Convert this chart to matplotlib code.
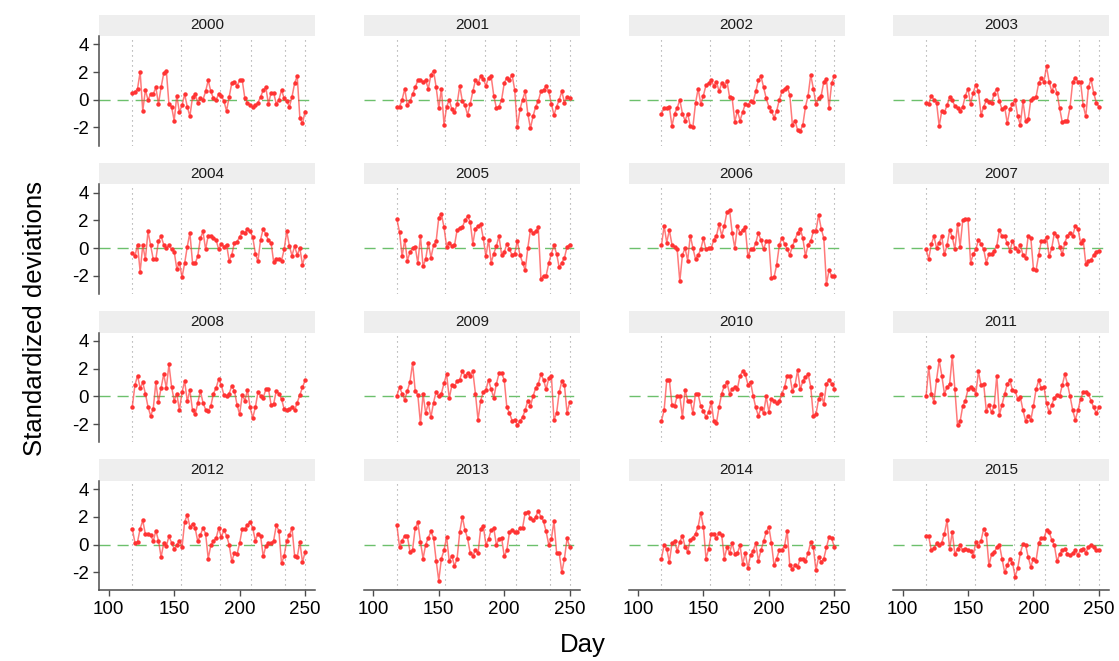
#!/usr/bin/env python3
"""
Standardized daily deviations by year, 16 small panels (2000-2015).
"""

import matplotlib
matplotlib.use("Agg")
import matplotlib.pyplot as plt
from matplotlib.patches import Rectangle

plt.rcParams["font.family"] = ["Liberation Sans", "DejaVu Sans"]
plt.rcParams["axes.unicode_minus"] = False

# ============================================================================
# DATA (every second day)
# ============================================================================
DAYS = list(range(118, 251, 2))
STAGE_DAYS = [118, 155, 185, 209, 235, 250]
YEARS = list(range(2000, 2016))
X_TICKS = [100, 150, 200, 250]
Y_TICKS = [-2, 0, 2, 4]

Y2000 = [0.5, 0.55, 0.8, 2.0, -0.8, 0.7, 0.0, 0.4, 0.4, 0.9, -0.3, 0.9, 1.9, 2.1,
         -0.3, -0.5, -1.5, 0.3, -0.9, -0.4, 0.4, -0.5, -1.2, 0.2, 0.4, -0.2, 0.1,
         0.0, 0.6, 1.4, 0.6, 0.1, 0.0, 0.4, 0.3, -0.1, -0.8, 0.2, 1.2, 1.3, 1.0,
         1.4, 1.4, 0.1, -0.2, -0.4, -0.55, -0.4, -0.2, 0.2, 0.7, 0.9, -0.3, 0.5,
         0.5, -0.3, 0.0, 0.7, 0.1, -0.1, -0.5, 0.2, 1.2, 1.7, -1.3, -1.7, -0.85]
Y2001 = [-0.55, -0.5, 0.0, 0.8, -0.4, -0.1, 0.4, 0.9, 1.4, 1.4, 1.3, 1.4, 0.8, 1.8,
         2.1, 0.9, -0.6, 0.8, -1.8, -0.5, 0.0, -0.7, -0.9, -0.3, 1.0, -0.1, -0.4,
         -1.1, -0.3, 0.6, 1.4, 1.2, 1.7, 1.5, 1.0, 1.6, 1.7, 0.3, -0.6, -0.5, 0.0,
         1.2, 1.6, 1.45, 1.8, 0.7, -2.0, -0.7, 0.0, 0.6, -1.0, -2.05, -1.2, -0.5,
         -0.1, 0.6, 0.7, 1.0, 0.6, -0.3, -1.1, -0.5, 0.0, 0.6, -0.2, 0.2, 0.1]
Y2002 = [-1.0, -0.6, -0.6, -0.5, -1.9, -1.0, -0.6, 0.0, -1.0, -1.5, -1.0, -1.9,
         -1.95, -0.25, 0.8, -0.3, 0.3, 1.05, 1.2, 1.4, 1.0, 1.3, 0.6, 1.2, 1.0,
         1.35, 0.2, 0.1, -1.6, -0.8, -1.5, -0.9, -0.3, -0.4, -0.1, -0.15, 0.6, 1.4,
         1.7, 0.9, 0.1, -0.5, -0.8, -1.3, -0.8, 0.0, 0.6, 0.8, 0.95, 0.35, -1.8,
         -1.5, -2.2, -2.25, -1.8, -0.5, 0.3, 1.8, 0.8, -0.3, 0.1, 0.3, 1.3, 1.5,
         -0.6, 1.2, 1.7]
Y2003 = [-0.25, -0.3, 0.3, 0.0, -0.2, -1.9, -0.8, -0.9, -0.4, 0.2, -0.05, -0.45,
         -0.6, -0.8, -0.5, 0.3, 0.8, -0.3, 0.5, 1.1, 0.6, -1.1, -0.5, -0.05, -0.15,
         -0.25, 0.45, 0.8, -0.1, -0.7, -0.5, -1.7, -0.7, -0.3, 0.0, -1.2, -1.8,
         -0.1, -1.5, -1.4, 0.0, 0.1, 0.2, 1.2, 1.55, 1.3, 2.4, 1.3, 0.6, 1.1, 0.5,
         -0.6, -1.6, -1.5, -1.5, -0.5, 1.3, 1.6, 1.3, 1.3, -0.4, -1.2, 0.9, 1.5,
         0.5, -0.2, -0.5]
Y2004 = [-0.35, -0.6, 0.25, -1.7, 0.2, -0.8, 1.2, 0.2, -0.8, -0.8, 0.5, 0.85, 0.25,
         0.0, 0.2, -0.1, -0.25, -1.5, -1.05, -2.1, -1.1, 0.1, 1.1, -1.05, -1.1,
         -0.6, 0.7, 1.2, -0.1, 0.9, 0.85, 0.75, 0.6, -0.1, 0.3, 0.1, 0.25, -0.9,
         -0.5, 0.4, 0.45, 0.8, 1.15, 1.1, 1.35, 1.2, 0.8, -0.4, -0.95, 0.6, 1.4,
         1.0, 0.55, 0.4, -1.0, -0.8, -0.8, -0.9, -0.1, 1.2, 0.15, -0.55, 0.15,
         -0.5, 0.0, -1.2, -0.55]
Y2005 = [2.1, 1.15, -0.6, 0.6, -0.9, -0.3, 0.0, 0.1, -1.1, 0.85, -1.3, -0.8, 0.4,
         -0.7, 0.2, 0.5, 2.2, 2.45, 1.5, 0.1, 0.4, 0.15, 0.2, 1.3, 1.45, 1.5, 2.0,
         2.3, 1.9, 0.3, 1.4, 1.6, 1.7, 0.7, -0.6, 0.6, -1.05, -0.4, 0.15, 0.85,
         -0.5, -0.3, 0.3, -0.1, -0.5, -0.4, 0.5, -0.5, -1.05, -1.6, 0.0, 1.3, 1.1,
         1.2, 1.5, -2.2, -2.0, -2.0, -1.1, -0.4, 0.2, -0.4, -1.4, -1.05, -0.7, 0.1,
         0.25]
Y2006 = [0.2, 1.6, 0.4, 1.3, 0.25, 0.1, -0.1, -2.4, -0.5, 0.0, -0.9, 0.9, 0.0,
         -0.8, -0.5, -0.1, 0.7, -0.1, 0.0, 0.0, 0.6, 0.9, 1.7, 0.9, 1.6, 2.6, 2.75,
         1.1, 0.0, 1.6, 1.1, 1.3, 1.5, -0.6, -0.1, -0.1, 0.35, 1.1, 0.55, -0.1,
         0.5, 0.5, -2.15, -2.1, -1.2, 0.2, 0.75, 0.3, -0.1, -0.5, 0.15, 0.6, 1.1,
         1.4, 0.7, -0.6, 0.25, 0.5, 1.2, 1.2, 2.4, 1.4, 0.7, -2.6, -1.6, -2.0,
         -2.0]
Y2007 = [-0.1, -0.8, 0.3, 0.85, 0.0, 0.4, 0.85, -0.45, 0.2, 1.3, 0.8, -0.1, 1.7,
         0.1, 2.0, 2.1, 2.1, -1.05, -0.45, -0.1, 0.6, 0.3, -0.1, -1.05, -0.45,
         -0.4, -0.2, 0.15, 1.3, 0.85, 0.85, 0.35, -0.2, 0.5, 0.0, -0.2, 0.25,
         -0.5, -0.7, 0.9, 0.75, -1.5, -1.6, -0.5, 0.5, 0.5, 0.8, -0.6, 0.0, 1.1,
         0.9, 0.1, -0.45, 0.4, 0.9, 1.1, 0.9, 1.6, 1.4, 0.4, 0.6, -1.15, -0.95,
         -0.85, -0.5, -0.25, -0.2]
Y2008 = [-0.75, 0.8, 1.5, 0.6, 1.0, 0.2, -0.75, -1.4, -0.9, 1.0, -0.4, 0.6, 1.6,
         0.6, 2.3, 0.7, -0.3, 0.2, -1.0, 0.3, 1.1, -0.35, 0.45, -1.0, -1.3, -0.5,
         0.4, -0.45, -0.95, -1.05, -0.7, 0.2, 0.6, 1.25, 0.8, 0.1, 0.0, 0.2, 0.75,
         0.4, -0.6, -1.3, 0.1, -0.3, 0.45, -0.8, -1.55, -0.8, 0.3, 0.05, -0.1, 0.5,
         0.55, -0.6, -0.55, 0.4, 0.2, -0.2, -0.9, -1.0, -0.9, -0.8, -1.0, -0.45,
         0.1, 0.65, 1.15]
Y2009 = [0.05, 0.65, 0.2, -0.25, 0.4, 1.05, 2.4, 0.4, 0.1, -1.95, 0.15, -1.2, -0.5,
         -1.5, -0.45, 0.35, 0.0, 0.2, 0.95, 1.6, -0.15, 0.8, 0.75, 1.1, 1.2, 1.8,
         1.5, 1.7, 1.5, 1.8, 0.2, -1.7, -0.3, 0.3, 0.45, 1.2, 0.5, -0.1, 0.9, 1.65,
         1.65, 1.2, -0.8, -1.2, -1.75, -1.7, -2.05, -1.8, -1.5, -1.0, -0.3, -0.7,
         0.0, 0.6, 0.9, 1.6, 1.2, 0.5, 1.3, 1.5, -1.7, -1.2, 0.3, 1.1, 0.8, -1.2,
         -0.4]
Y2010 = [-1.75, -1.0, 1.15, 1.2, -0.6, -0.7, 0.05, 0.0, -1.5, 0.45, -0.3, -0.3,
         -1.2, 0.2, 0.15, -0.7, -1.05, -1.5, -1.15, -0.4, -1.8, -1.9, -0.75, 0.2,
         0.75, 1.0, 0.2, 0.5, 0.65, 0.55, 1.5, 1.8, 1.6, 0.85, 1.05, 0.05, -0.8,
         -1.4, -0.85, -1.2, 0.0, -1.1, -0.2, -0.3, -0.5, -0.35, 0.2, 0.65, 1.5,
         1.5, 0.4, 0.8, 1.9, 0.5, 1.1, 1.4, 1.6, 0.7, -1.4, -1.3, -0.2, 0.2, -0.55,
         0.9, 1.2, 0.9, 0.55]
Y2011 = [0.0, 2.15, 0.2, -0.4, 1.2, 2.6, 1.5, 0.2, 0.65, 0.9, 2.9, 0.5, -2.1,
         -1.8, -0.7, -0.3, 0.5, 0.7, 0.55, 0.2, 1.8, 0.8, 0.9, -1.05, -0.6, -1.15,
         -0.7, 1.5, -1.35, -0.6, 0.15, 0.9, 1.15, 0.45, 0.4, -0.2, -0.05, -1.0,
         -1.75, -1.4, -1.7, -0.7, 0.5, 1.15, 0.6, 0.7, -0.5, -1.15, -0.6, -0.1,
         0.1, 0.0, 0.8, 1.6, 0.9, 0.0, -1.0, -1.7, -1.0, -0.2, 0.3, 0.3, 0.15,
         -0.3, -0.8, -1.2, -0.8]
Y2012 = [1.15, 0.15, 0.2, 1.15, 1.75, 0.75, 0.8, 0.7, 0.25, 1.0, 0.3, -0.9, 0.1,
         -0.1, 0.6, 0.15, -0.3, -0.05, 0.3, -0.2, 1.65, 2.15, 1.3, 1.5, 1.2, 0.25,
         0.7, 1.2, 0.8, -1.0, -0.05, 0.25, 0.45, 1.2, 0.55, 1.05, 0.65, 0.0, -1.2,
         -0.6, -0.7, 0.1, 1.15, 1.15, 1.4, 1.65, 1.2, 0.3, 0.8, 0.65, -0.85, -0.1,
         0.1, 0.1, 0.3, 1.4, 1.0, -1.35, -0.8, 0.3, 0.7, 1.2, -0.8, -0.9, 0.2,
         -1.25, -0.55]
Y2013 = [1.4, -0.15, 0.3, 0.65, 0.6, -0.5, -0.35, 1.2, 1.6, 0.2, -1.0, 0.0, 0.5,
         0.95, 0.5, -1.15, -2.6, -1.0, -0.4, 0.55, -1.2, -0.8, -1.55, -1.0, 0.9,
         2.0, 1.05, 0.45, -0.6, -0.8, -0.4, -0.6, 1.15, 1.35, 0.0, 0.4, 1.05, 1.2,
         0.0, 0.4, 0.5, -0.85, -0.4, 0.9, 1.05, 0.9, 0.9, 1.2, 1.2, 2.3, 2.35, 1.9,
         1.75, 2.0, 2.45, 2.0, 1.7, 0.95, 0.0, 0.4, 1.7, -0.6, -0.6, -2.0, -1.0,
         0.45, -0.15]
Y2014 = [-1.0, 0.0, -0.3, -1.25, 0.1, 0.25, -0.45, 0.2, 0.65, -0.15, -0.5, 0.35,
         0.5, 0.8, 1.3, 2.3, 1.3, -1.0, -0.3, 0.8, 0.8, 0.45, 0.85, 0.7, -1.0,
         -0.2, -0.6, 0.1, -0.65, -0.6, -0.05, -1.4, -0.6, -1.7, -0.75, -0.45, 0.1,
         -1.15, -0.4, 0.25, 0.9, 1.3, 0.1, -1.5, -1.0, -0.4, -0.35, -0.1, 1.0,
         -1.5, -1.75, -1.5, -1.6, -1.0, -1.0, -1.15, -0.6, 0.2, -0.2, -1.85, -0.9,
         -1.25, -1.0, -0.2, 0.55, 0.45, -0.15]
Y2015 = [0.65, 0.6, -0.4, -0.25, 0.1, 0.0, 0.15, 0.8, 1.75, -0.3, 0.9, -0.7, -0.3,
         -0.05, -0.4, -0.3, -0.4, -0.45, -0.8, 0.2, -0.1, 0.3, 1.15, 0.75, -1.5,
         -0.7, -0.55, -0.2, 0.0, -1.0, -2.0, -1.5, -1.0, -1.3, -2.3, -1.7, -0.6,
         0.05, 0.0, -0.9, -1.6, -1.0, -1.15, 0.1, 0.5, 0.45, 1.05, 0.9, 0.35,
         -0.05, -1.2, -0.7, -0.4, -0.3, -0.65, -0.75, -0.6, -0.4, -0.75, -0.35,
         -0.3, -0.6, -0.15, 0.0, -0.2, -0.4, -0.35]

SERIES = [Y2000, Y2001, Y2002, Y2003, Y2004, Y2005, Y2006, Y2007,
          Y2008, Y2009, Y2010, Y2011, Y2012, Y2013, Y2014, Y2015]

# ============================================================================
# LAYOUT (pixel geometry of the reference)
# ============================================================================
W, H = 1119, 661
COL_X = [99.3, 363.9, 628.5, 893.1]
PANEL_W = 216
ROW_TOP = 36
ROW_STEP = 148.3
PANEL_H = 109.5
STRIP_H = 21.5

RED = "#ff3333"
GREEN = "#6cc06c"
AXIS_GREY = "#4d4d4d"

fig = plt.figure(figsize=(W / 100, H / 100), dpi=100)

for i, (year, vals) in enumerate(zip(YEARS, SERIES)):
    r, c = divmod(i, 4)
    top = ROW_TOP + r * ROW_STEP
    ax = fig.add_axes([COL_X[c] / W, 1 - (top + PANEL_H) / H, PANEL_W / W, PANEL_H / H])

    for d in STAGE_DAYS:
        ax.axvline(d, color="#9a9a9a", lw=0.8, ls=(0, (1, 3.5)), zorder=1)
    ax.axhline(0, color=GREEN, lw=1.0, ls=(0, (8, 5)), zorder=1)

    ax.plot(DAYS, vals, color=RED, lw=1.1, alpha=0.65, zorder=2)
    ax.plot(DAYS, vals, ls="none", marker="o", ms=3.2, color=RED, mec="none", zorder=3)

    ax.set_xlim(92.8, 257.8)
    ax.set_ylim(-3.3, 4.6)

    # facet strip
    ax.add_patch(Rectangle((0, 1.0), 1, STRIP_H / PANEL_H, transform=ax.transAxes,
                           facecolor="#eeeeee", edgecolor="none", clip_on=False))
    ax.text(0.5, 1.0 + STRIP_H / PANEL_H / 2, str(year), transform=ax.transAxes,
            ha="center", va="center", fontsize=11, color="#1a1a1a")

    for s in ax.spines.values():
        s.set_visible(False)

    if c == 0:
        ax.spines["left"].set_visible(True)
        ax.spines["left"].set_color(AXIS_GREY)
        ax.spines["left"].set_linewidth(1.1)
        ax.set_yticks(Y_TICKS)
        ax.tick_params(axis="y", length=4, width=1, colors=AXIS_GREY,
                       labelcolor="black", labelsize=13.5)
    else:
        ax.set_yticks([])

    if r == 3:
        ax.spines["bottom"].set_visible(True)
        ax.spines["bottom"].set_color(AXIS_GREY)
        ax.spines["bottom"].set_linewidth(1.1)
        ax.set_xticks(X_TICKS)
        ax.tick_params(axis="x", length=4, width=1, colors=AXIS_GREY,
                       labelcolor="black", labelsize=13.5)
    else:
        ax.set_xticks([])

fig.text(35 / W, 1 - 318 / H, "Standardized deviations", rotation=90,
         ha="center", va="center", fontsize=18.5)
fig.text(583 / W, 1 - 645 / H, "Day", ha="center", va="center", fontsize=18.5)

fig.savefig("out.png", dpi=100)
print("Saved: out.png")
